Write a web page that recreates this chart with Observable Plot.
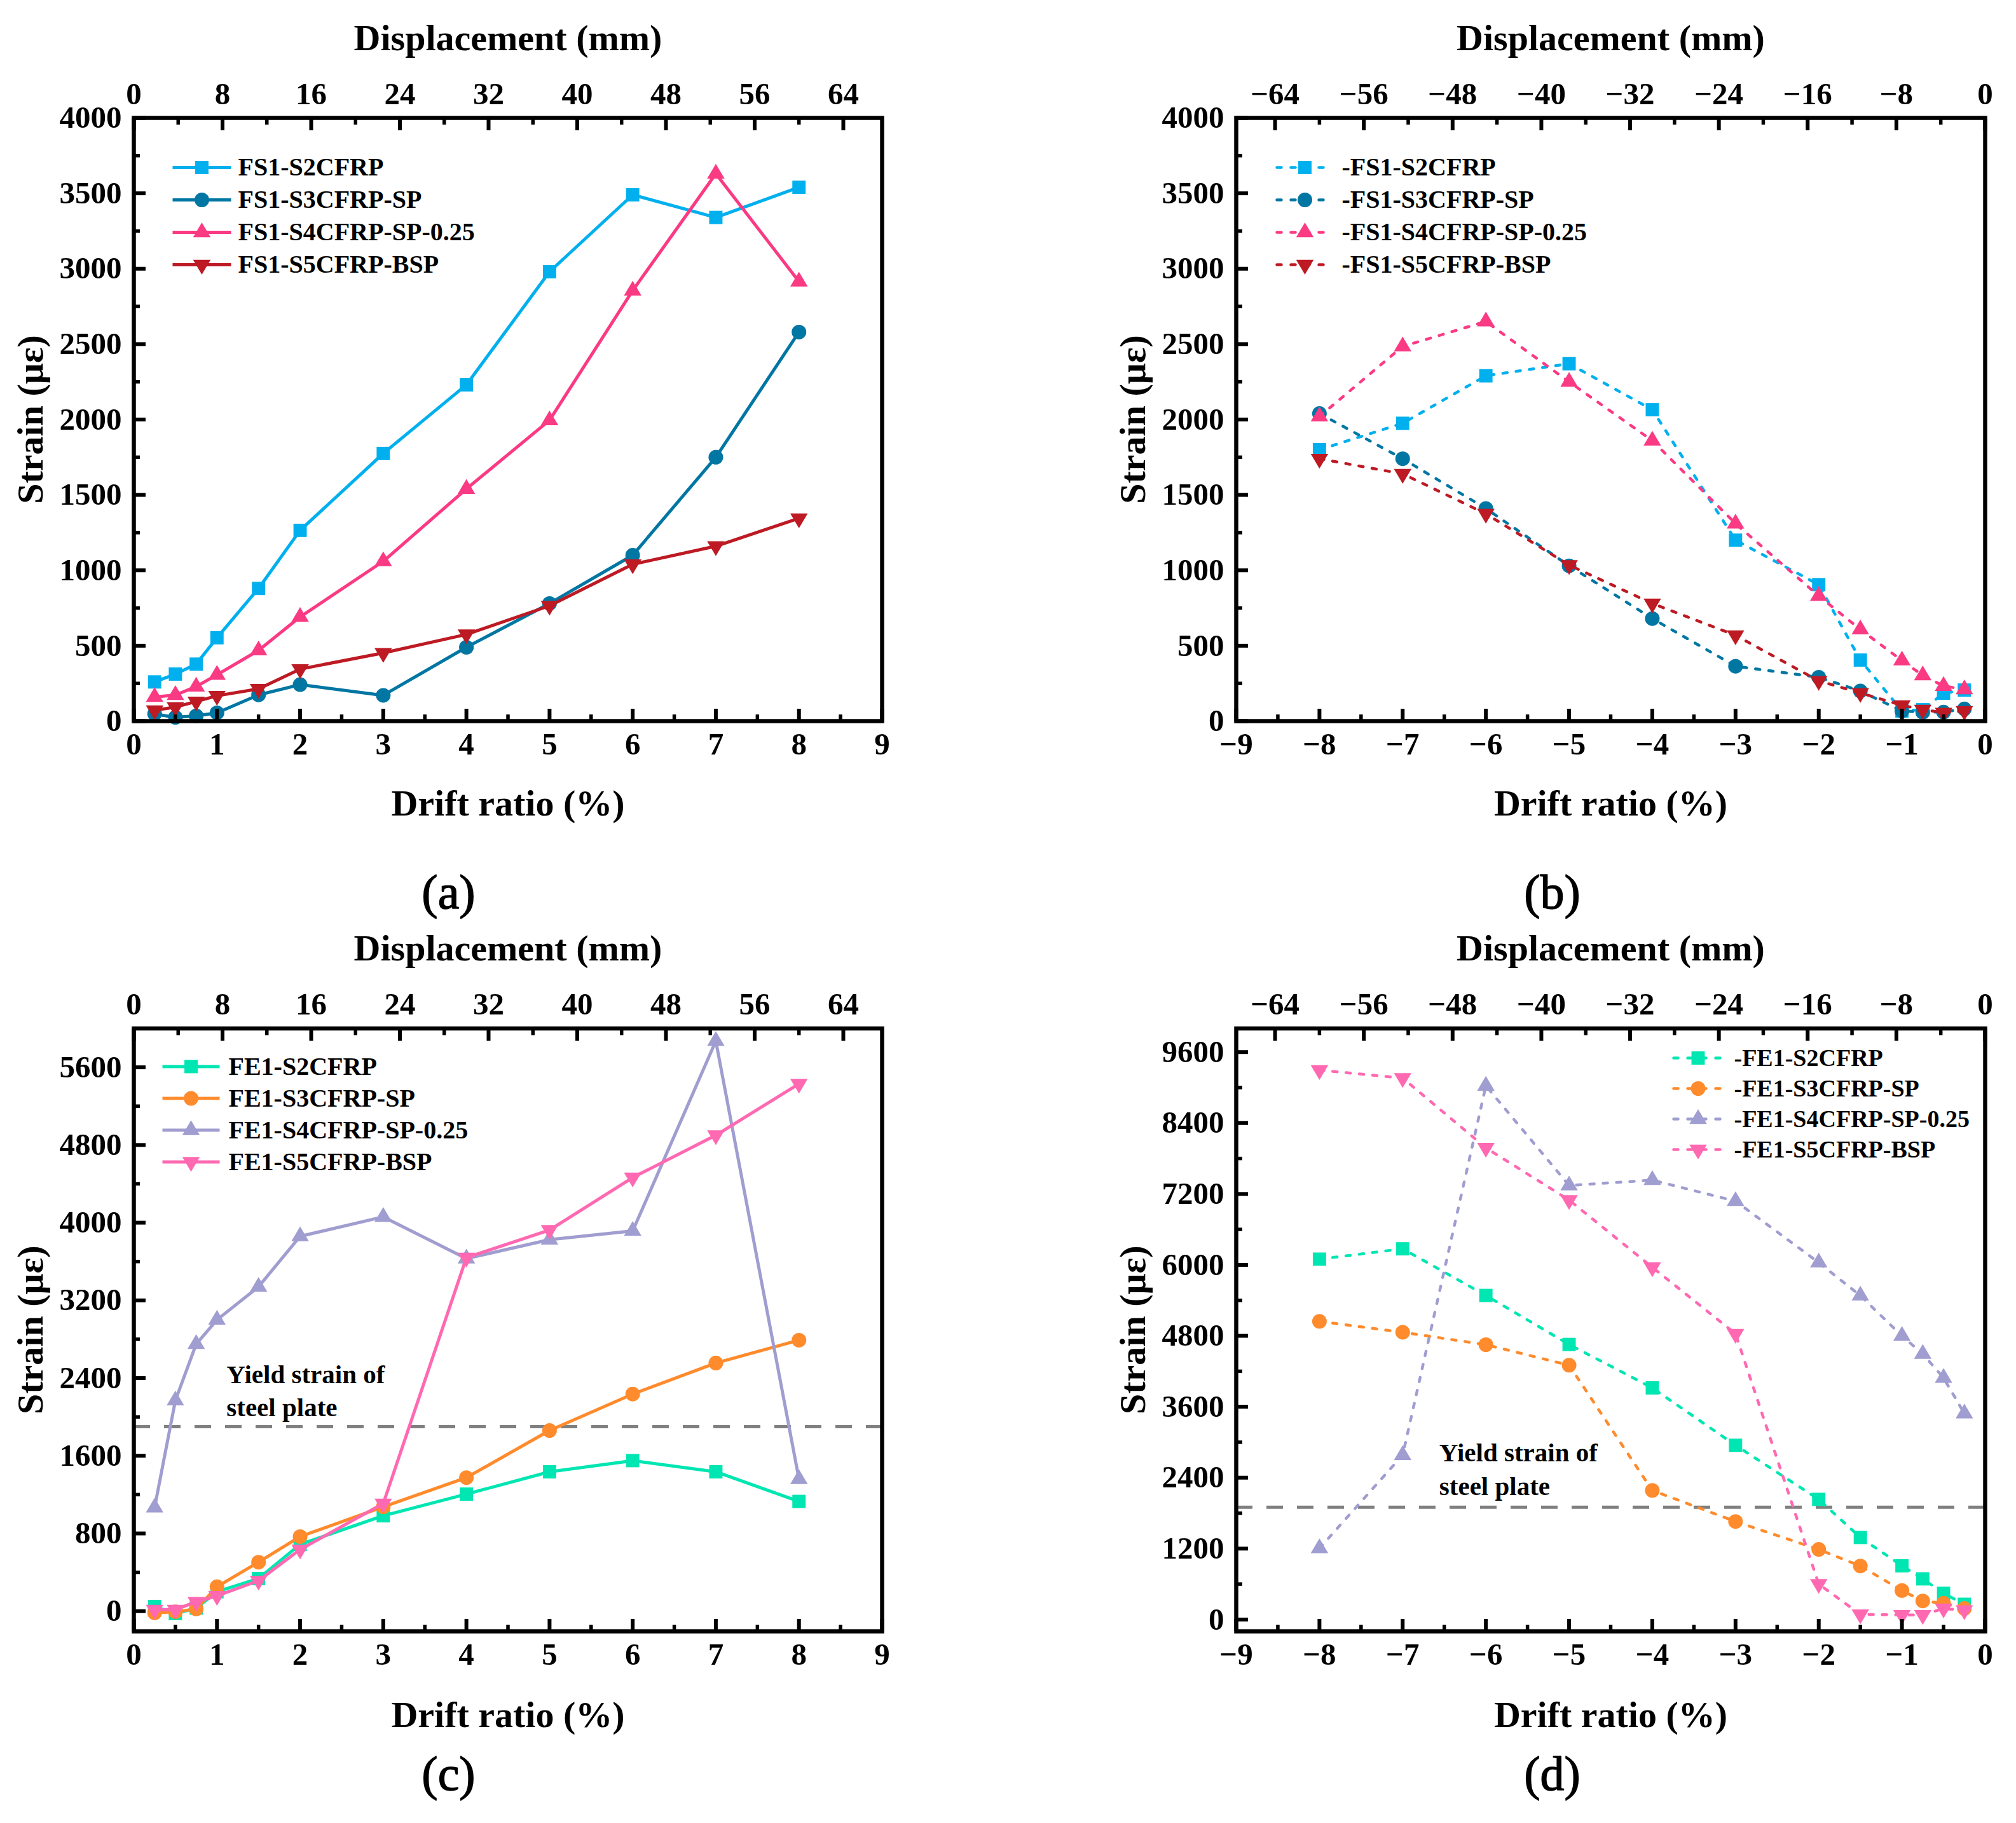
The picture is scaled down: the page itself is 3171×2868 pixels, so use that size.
<!DOCTYPE html>
<html><head><meta charset="utf-8">
<script src="https://cdn.jsdelivr.net/npm/d3@7/dist/d3.min.js"></script>
<script src="https://cdn.jsdelivr.net/npm/@observablehq/plot@0.6/dist/plot.umd.min.js"></script>
<style>
html,body{margin:0;padding:0;background:#fff}
#page{position:relative;width:3171px;height:2868px;background:#fff;overflow:hidden}
#page svg{position:absolute;background:transparent;overflow:visible}
</style></head><body><div id="page"></div>
<script>
const FONT = '"Liberation Serif","Times New Roman",serif';
const driftPos = [0.25,0.5,0.75,1,1.5,2,3,4,5,6,7,8];
const driftNeg = [-8,-7,-6,-5,-4,-3,-2,-1.5,-1,-0.75,-0.5,-0.25];

const fsColors = ["#00b0ee","#0076a3","#fb3a84","#bd1a24"];
const feColors = ["#00e6b2","#ff8b2c","#a09dd0","#ff69b2"];

const namesA = ["FS1-S2CFRP","FS1-S3CFRP-SP","FS1-S4CFRP-SP-0.25","FS1-S5CFRP-BSP"];
const namesB = namesA.map(d=>"-"+d);
const namesC = ["FE1-S2CFRP","FE1-S3CFRP-SP","FE1-S4CFRP-SP-0.25","FE1-S5CFRP-BSP"];
const namesD = namesC.map(d=>"-"+d);

const a2 = [260,312,378,553,880,1265,1775,2230,2980,3490,3340,3540];
const a3 = [48,25,35,55,174,242,171,490,780,1100,1750,2580];
const a4 = [160,173,229,307,469,691,1060,1540,1995,2855,3630,2915];
const a5 = [72,93,130,168,214,345,452,575,765,1040,1160,1345];

const b2 = [1800,1975,2290,2370,2065,1200,905,405,67,76,185,206];
const b3 = [2040,1740,1410,1030,680,364,291,200,67,59,60,81];
const b4 = [2020,2485,2650,2250,1860,1310,830,608,402,303,233,211];
const b5 = [1740,1640,1375,1035,780,569,267,187,105,76,56,67];

const c2 = [48,-25,32,200,336,688,982,1205,1435,1550,1435,1130];
const c3 = [-18,-6,22,251,504,768,1074,1375,1860,2235,2555,2790];
const c4 = [1067,2170,2750,3000,3340,3860,4060,3630,3825,3915,5870,1360];
const c5 = [15,15,97,157,314,635,1108,3640,3925,4465,4900,5430];

const d2 = [6097,6272,5483,4654,3919,2948,2033,1388,910,688,444,258];
const d3 = [5045,4860,4650,4303,2184,1658,1186,906,491,314,275,186];
const d4 = [1205,2782,9030,7344,7434,7079,6039,5480,4798,4493,4088,3486];
const d5 = [9295,9160,7980,7097,5960,4834,600,88,78,78,186,157];

const yieldStrain = 1900;
const MM_PER_PERCENT = 7.5;

const triUp = {draw(c,s){const k=Math.sqrt(s);const w=.68*k,h=1.15*k;c.moveTo(0,-h*2/3);c.lineTo(w,h/3);c.lineTo(-w,h/3);c.closePath();}};
const triDown = {draw(c,s){const k=Math.sqrt(s);const w=.68*k,h=1.15*k;c.moveTo(0,h*2/3);c.lineTo(w,-h/3);c.lineTo(-w,-h/3);c.closePath();}};
const symbols = ["square","circle",triUp,triDown];
const R = [11.8,11.5,11.4,11.4];

function legendMarks(names,colors,dashed,box){
  const marks=[];
  const seg={draw(c,s){c.moveTo(-box.half,0);c.lineTo(box.half,0);}};
  names.forEach((n,i)=>{
    const dy=box.top+i*box.step;
    marks.push(Plot.dot([n],{frameAnchor:"top-left",dx:box.left+box.half,dy,symbol:seg,r:5,fill:"none",stroke:colors[i],strokeWidth:dashed?4.5:5,
      strokeDasharray:dashed?"7 15":undefined,strokeLinecap:dashed?"round":"butt"}));
    marks.push(Plot.dot([n],{frameAnchor:"top-left",dx:box.left+box.half,dy,symbol:symbols[i],r:R[i],fill:colors[i],stroke:"none"}));
    marks.push(Plot.text([n],{frameAnchor:"top-left",dx:box.textLeft,dy,text:d=>d,textAnchor:"start",lineAnchor:"middle",fontFamily:FONT,fontWeight:"bold",fontSize:box.font,fill:"#000"}));
  });
  return marks;
}

function panel(o){
  const {xs,series,names,colors,dashed,xDomain,xMajor,xMinor,mmMajor,mmMinor,yDomain,yMajor,yMinor,
    svgLeft,svgTop,width,height,ml,mr,mt,mb,legend,label,labelDx,labelDy,yieldAt,yieldText,xTitleDy,topTitleDy,topTickPad,botTickPad}=o;
  const axisFont={fontFamily:FONT,fontWeight:"bold",fontSize:49,fill:"#000"};
  const fmt=d=>(d<0?"\u2212":"")+Math.abs(d);
  const marks=[];
  if(yieldAt!==undefined){
    marks.push(Plot.ruleY([yieldAt],{stroke:"#808080",strokeWidth:5,strokeDasharray:"26 22"}));
    marks.push(Plot.text([yieldText.lines],{x:yieldText.x,y:yieldText.y,text:d=>d,textAnchor:"start",lineAnchor:"middle",lineHeight:1.28,fontFamily:FONT,fontWeight:"bold",fontSize:41,fill:"#000"}));
  }
  series.forEach((ys,i)=>{
    const rows=xs.map((x,k)=>({x,y:ys[k]}));
    marks.push(Plot.line(rows,{x:"x",y:"y",stroke:colors[i],strokeWidth:dashed?4.5:5,
      strokeDasharray:dashed?"7 14":undefined,strokeLinecap:dashed?"round":"butt",strokeLinejoin:"round",curve:"linear"}));
    marks.push(Plot.dot(rows,{x:"x",y:"y",symbol:symbols[i],r:R[i],fill:colors[i],stroke:"none"}));
  });
  const tk={stroke:"#000",label:null,text:null};
  marks.push(Plot.axisX({anchor:"bottom",ticks:xMajor,tickSize:-19,strokeWidth:6,...tk}));
  marks.push(Plot.axisX({anchor:"bottom",ticks:xMinor,tickSize:-10,strokeWidth:5.5,...tk}));
  marks.push(Plot.axisX({anchor:"top",ticks:mmMajor.map(d=>d/MM_PER_PERCENT),tickSize:-19,strokeWidth:6,...tk}));
  marks.push(Plot.axisX({anchor:"top",ticks:mmMinor.map(d=>d/MM_PER_PERCENT),tickSize:-10,strokeWidth:5.5,...tk}));
  marks.push(Plot.axisY({anchor:"left",ticks:yMajor,tickSize:-19,strokeWidth:6,...tk}));
  marks.push(Plot.axisY({anchor:"left",ticks:yMinor,tickSize:-10,strokeWidth:5.5,...tk}));
  marks.push(Plot.frame({stroke:"#000",strokeWidth:6.5}));
  marks.push(Plot.axisX({anchor:"bottom",ticks:xMajor,tickSize:0,tickPadding:botTickPad,tickFormat:fmt,label:null,...axisFont}));
  marks.push(Plot.axisX({anchor:"top",ticks:mmMajor.map(d=>d/MM_PER_PERCENT),tickSize:0,tickPadding:topTickPad,tickFormat:d=>fmt(Math.round(d*MM_PER_PERCENT)),label:null,...axisFont}));
  marks.push(Plot.axisY({anchor:"left",ticks:yMajor,tickSize:0,tickPadding:19,tickFormat:fmt,label:null,...axisFont}));
  const titleFont={fontFamily:FONT,fontWeight:"bold",fontSize:58,fill:"#000",lineAnchor:"middle",textAnchor:"middle"};
  marks.push(Plot.text(["Displacement (mm)"],{frameAnchor:"top",dy:topTitleDy,text:d=>d,...titleFont}));
  marks.push(Plot.text(["Drift ratio (%)"],{frameAnchor:"bottom",dy:xTitleDy,text:d=>d,...titleFont}));
  marks.push(Plot.text(["Strain (\u03bc\u03b5)"],{frameAnchor:"left",dx:-162,rotate:-90,text:d=>d,...titleFont}));
  marks.push(Plot.text([label],{frameAnchor:"bottom",dx:labelDx,dy:labelDy,text:d=>d,fontFamily:FONT,fontSize:76,fill:"#000",stroke:"#000",strokeWidth:1.4,lineAnchor:"middle"}));
  marks.push(...legendMarks(names,colors,dashed,legend));
  const svg=Plot.plot({width,height,marginLeft:ml,marginRight:mr,marginTop:mt,marginBottom:mb,
    style:{background:"transparent",overflow:"visible"},
    x:{domain:xDomain,axis:null},y:{domain:yDomain,axis:null},marks});
  svg.style.left=svgLeft+"px";svg.style.top=svgTop+"px";
  document.getElementById("page").appendChild(svg);
}

const range=(a,b,s)=>{const r=[];for(let v=a;v<=b+s/2;v+=s)r.push(v);return r;};
const topRow=1450;
const L={width:1585,ml:210,mr:198,xDomain:[0,9],xMajor:range(0,9,1),xMinor:range(.5,8.5,1),mmMajor:range(0,64,8),mmMinor:range(4,60,8)};
const Rt={width:1586,ml:359,mr:49,xDomain:[-9,0],xMajor:range(-9,0,1),xMinor:range(-8.5,-.5,1),mmMajor:range(-64,0,8),mmMinor:range(-60,-4,8)};
const T={svgTop:0,height:topRow,mt:185,mb:topRow-1134,xTitleDy:130,topTitleDy:-125,topTickPad:22,botTickPad:18,labelDy:270};
const B={svgTop:topRow,height:2868-topRow,mt:1617.5-topRow,mb:2868-2566,xTitleDy:132,topTitleDy:-126,topTickPad:22,botTickPad:18,labelDy:225};

panel({...L,...T,svgLeft:0,xs:driftPos,series:[a2,a3,a4,a5],names:namesA,colors:fsColors,dashed:false,
  yDomain:[0,4000],yMajor:range(0,4000,500),yMinor:range(250,3750,500),label:"(a)",labelDx:-93.5,
  legend:{left:61,half:46,top:78,step:51,textLeft:164,font:40}});
panel({...Rt,...T,svgLeft:1585,xs:driftNeg,series:[b2,b3,b4,b5],names:namesB,colors:fsColors,dashed:true,
  yDomain:[0,4000],yMajor:range(0,4000,500),yMinor:range(250,3750,500),label:"(b)",labelDx:-92,
  legend:{left:64,half:44,top:78,step:51,textLeft:166,font:40}});
panel({...L,...B,svgLeft:0,xs:driftPos,series:[c2,c3,c4,c5],names:namesC,colors:feColors,dashed:false,
  yDomain:[-208,6000],yMajor:range(0,5600,800),yMinor:range(400,5200,800),label:"(c)",labelDx:-93.5,
  legend:{left:45,half:45,top:60,step:50,textLeft:149,font:40},yieldAt:yieldStrain,yieldText:{lines:"Yield strain of\nsteel plate",x:1.115,y:2287}});
panel({...Rt,...B,svgLeft:1585,xs:driftNeg,series:[d2,d3,d4,d5],names:namesD,colors:feColors,dashed:true,
  yDomain:[-200,10000],yMajor:range(0,9600,1200),yMinor:range(600,9000,1200),label:"(d)",labelDx:-92,
  legend:{left:688,half:38.5,top:46.5,step:48,textLeft:783,font:38},yieldAt:yieldStrain,yieldText:{lines:"Yield strain of\nsteel plate",x:-6.56,y:2574}});
</script></body></html>
